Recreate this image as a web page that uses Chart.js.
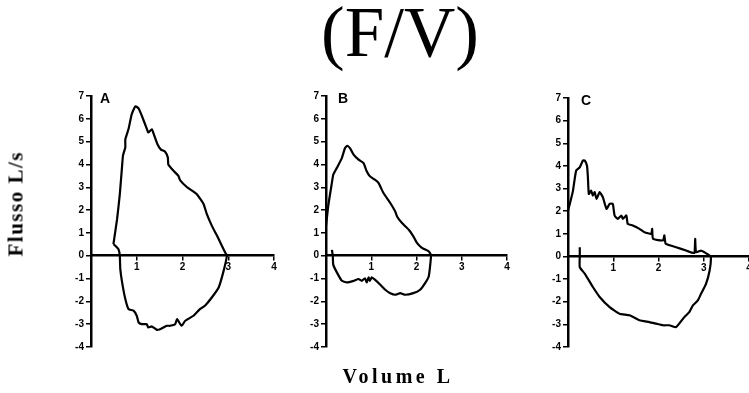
<!DOCTYPE html>
<html>
<head>
<meta charset="utf-8">
<script src="https://cdn.jsdelivr.net/npm/chart.js@4.4.1/dist/chart.umd.min.js"></script>
<style>
body { margin: 0; background: #fff; }
#wrap { position: relative; width: 749px; height: 393px; overflow: hidden; }
#wrap canvas { position: absolute; left: 0; top: 0; }
.txt { position: absolute; color: #000; white-space: nowrap; }
#title { left: 0; width: 800px; text-align: center; top: -8px; font: 71px "Liberation Serif", serif; }
#xlab { left: 300px; width: 196px; text-align: center; top: 365px; font: bold 20px "Liberation Serif", serif; letter-spacing: 3.5px; }
#ylab { left: -34px; top: 194px; width: 100px; text-align: center; font: bold 21px "Liberation Serif", serif; letter-spacing: 1.5px; transform: rotate(-90deg); }
.pl { font: bold 14px "Liberation Sans", Arial, sans-serif; }
</style>
</head>
<body>
<div id="wrap">
  <canvas id="pa" width="749" height="393"></canvas>
  <canvas id="pb" width="749" height="393"></canvas>
  <canvas id="pc" width="800" height="393"></canvas>
  <div class="txt" id="title">(F/V)</div>
  <div class="txt" id="xlab">Volume L</div>
  <div class="txt" id="ylab">Flusso L/s</div>
  <div class="txt pl" style="left:100px;top:90px">A</div>
  <div class="txt pl" style="left:338px;top:90px">B</div>
  <div class="txt pl" style="left:581px;top:92px">C</div>
</div>
<script>
// axis ticks shared by the three panels
const yTicks = [-4, -3, -2, -1, 0, 1, 2, 3, 4, 5, 6, 7];
const xTicks = [0, 1, 2, 3, 4];

// panel A - volume (L) and flow (L/s), expiration then inspiration
const volA = [0.49, 0.57, 0.63, 0.68, 0.70, 0.75, 0.75, 0.82, 0.89, 0.97, 1.04, 1.11, 1.22, 1.25, 1.33, 1.37, 1.45, 1.53, 1.62, 1.68, 1.69, 1.80, 1.91, 1.95, 2.10, 2.31, 2.46, 2.53, 2.64, 2.79, 2.93, 2.97,
  2.89, 2.79, 2.64, 2.49, 2.38, 2.24, 2.06, 1.98, 1.88, 1.84, 1.73, 1.66, 1.51, 1.44, 1.33, 1.25, 1.22, 1.11, 1.04, 1.00, 0.93, 0.82, 0.75, 0.68, 0.64, 0.63, 0.60, 0.53, 0.49];
const flowA = [0.51, 1.6, 2.7, 3.95, 4.4, 4.75, 5.1, 5.55, 6.2, 6.55, 6.46, 6.14, 5.56, 5.4, 5.54, 5.34, 4.9, 4.65, 4.56, 4.3, 4.0, 3.73, 3.5, 3.3, 3.0, 2.7, 2.27, 1.83, 1.32, 0.73, 0.15, 0,
  -0.73, -1.39, -1.83, -2.19, -2.34, -2.63, -2.85, -3.07, -2.78, -3.0, -3.07, -3.07, -3.22, -3.25, -3.1, -3.14, -3.0, -3.0, -2.92, -2.63, -2.41, -2.34, -1.9, -1.17, -0.58, 0, 0.29, 0.44, 0.51];

// panel B
const volB = [0.00, 0.05, 0.13, 0.16, 0.24, 0.35, 0.42, 0.47, 0.53, 0.61, 0.72, 0.83, 0.90, 0.97, 1.08, 1.16, 1.27, 1.42, 1.53, 1.57, 1.68, 1.83, 1.93, 2.01, 2.12, 2.27, 2.32,
  2.30, 2.27, 2.19, 2.08, 1.93, 1.75, 1.64, 1.53, 1.42, 1.31, 1.20, 1.08, 1.01, 0.97, 0.94, 0.90, 0.86, 0.79, 0.72, 0.61, 0.46, 0.35, 0.24, 0.16, 0.15, 0.13];
const flowB = [1.3, 2.19, 3.19, 3.55, 3.85, 4.28, 4.72, 4.82, 4.72, 4.43, 4.21, 4.06, 3.7, 3.48, 3.33, 3.19, 2.75, 2.31, 1.94, 1.72, 1.43, 1.14, 0.85, 0.56, 0.34, 0.19, 0.04,
  -0.47, -0.91, -1.2, -1.49, -1.64, -1.71, -1.64, -1.71, -1.64, -1.49, -1.27, -1.05, -0.95, -1.1, -0.95, -1.17, -0.99, -1.1, -1.02, -1.1, -1.17, -1.1, -0.73, -0.39, 0, 0.26];

// panel C
const volC = [0.00, 0.04, 0.11, 0.18, 0.26, 0.33, 0.37, 0.42, 0.44, 0.46, 0.51, 0.55, 0.59, 0.63, 0.70, 0.77, 0.85, 0.92, 0.99, 1.03, 1.10, 1.18, 1.21, 1.29, 1.32, 1.43, 1.58, 1.69, 1.84, 1.86, 1.88, 2.10, 2.13, 2.16, 2.39, 2.61, 2.79, 2.81, 2.83, 2.94, 3.01, 3.13, 3.16,
  3.13, 3.05, 2.94, 2.87, 2.76, 2.68, 2.57, 2.39, 2.24, 2.10, 1.95, 1.80, 1.58, 1.36, 1.14, 0.92, 0.70, 0.55, 0.37, 0.26, 0.26, 0.26];
const flowC = [2.03, 2.32, 2.91, 3.79, 3.94, 4.24, 4.24, 4.01, 3.5, 2.76, 2.91, 2.69, 2.84, 2.54, 2.84, 2.62, 2.1, 2.32, 2.32, 1.81, 1.66, 1.81, 1.66, 1.81, 1.44, 1.37, 1.22, 1.07, 1.0, 1.22, 0.78, 0.71, 0.93, 0.56, 0.41, 0.26, 0.15, 0.78, 0.19, 0.26, 0.19, 0.04, -0.03,
  -0.62, -1.21, -1.65, -1.94, -2.16, -2.46, -2.68, -3.12, -3.04, -3.04, -2.97, -2.9, -2.82, -2.6, -2.53, -2.24, -1.79, -1.35, -0.76, -0.47, 0, 0.41];

function pts(xs, ys)
{
    return xs.map(function(x, i) { return {x: x, y: ys[i]}; });
}

function panel(id, xs, ys, pad)
{
    const ctx = document.getElementById(id);
    new Chart(ctx, {
	type: 'scatter',
	data: {
	    datasets: [{
		data: pts(xs, ys),
		showLine: true,
		borderColor: '#000',
		borderWidth: 2.2,
		pointRadius: 0,
		tension: 0.15
	    }]
	},
	options: {
	    responsive: false,
	    animation: false,
	    layout: { padding: pad },
	    plugins: { legend: { display: false }, tooltip: { enabled: false } },
	    scales: {
		x: {
		    type: 'linear',
		    position: { y: 0 },
		    min: xTicks[0],
		    max: xTicks[xTicks.length - 1],
		    afterBuildTicks: function(s) { s.ticks = xTicks.map(function(v) { return {value: v}; }); },
		    border: { color: '#000', width: 2.5 },
		    grid: { drawOnChartArea: false, color: '#000', lineWidth: 1.5, tickLength: 4 },
		    ticks: {
			color: '#000',
			padding: 2,
			maxRotation: 0,
			font: { family: 'Liberation Sans', size: 10, weight: 'bold' },
			callback: function(v) { return v == 0 ? '' : v; }
		    }
		},
		y: {
		    type: 'linear',
		    position: 'left',
		    min: yTicks[0],
		    max: yTicks[yTicks.length - 1],
		    afterBuildTicks: function(s) { s.ticks = yTicks.map(function(v) { return {value: v}; }); },
		    afterFit: function(s) { s.width = 20; },
		    border: { color: '#000', width: 2.5 },
		    grid: { drawOnChartArea: false, color: '#000', lineWidth: 1.5, tickLength: 5 },
		    ticks: {
			color: '#000',
			padding: 2,
			font: { family: 'Liberation Sans', size: 10, weight: 'bold' }
		    }
		}
	    }
	}
    });
}

panel('pa', volA, flowA, {left: 71, right: 475, top: 96, bottom: 46});
panel('pb', volB, flowB, {left: 306, right: 242, top: 96, bottom: 46});
// panel C runs off the right edge, as in the original figure
panel('pc', volC, flowC, {left: 548, right: 51, top: 98, bottom: 46});
</script>
</body>
</html>
